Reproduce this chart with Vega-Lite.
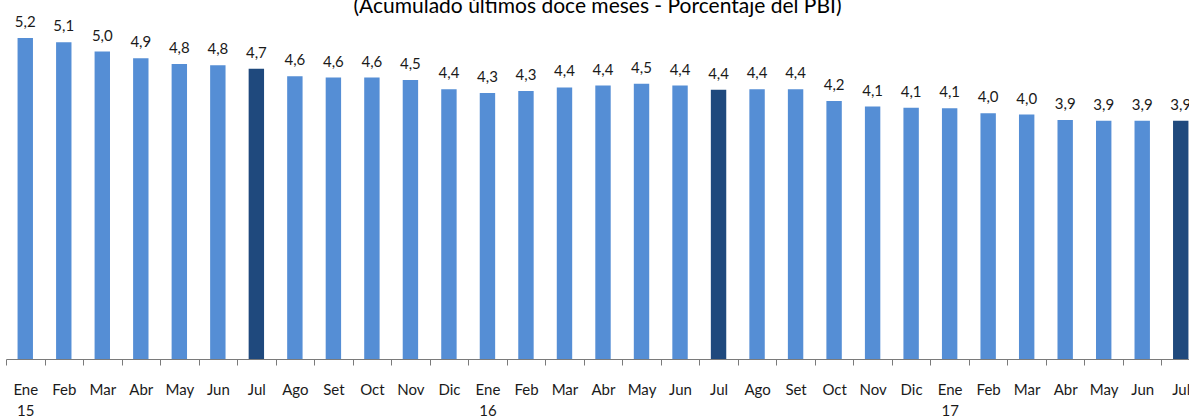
{
  "$schema": "https://vega.github.io/schema/vega-lite/v6.json",
  "autosize": "none",
  "width": 1183,
  "height": 321,
  "padding": {"left": 6, "top": 38, "right": 0, "bottom": 58},
  "background": "white",
  "title": {
    "text": "(Acumulado últimos doce meses - Porcentaje del PBI)",
    "font": "Lato",
    "fontSize": 21,
    "fontWeight": "normal",
    "color": "#000000",
    "anchor": "middle",
    "baseline": "alphabetic",
    "offset": -19
  },
  "data": {
    "values": [
      {"periodo": "15-01", "valor": 5.20, "destacado": false},
      {"periodo": "15-02", "valor": 5.13, "destacado": false},
      {"periodo": "15-03", "valor": 4.98, "destacado": false},
      {"periodo": "15-04", "valor": 4.87, "destacado": false},
      {"periodo": "15-05", "valor": 4.78, "destacado": false},
      {"periodo": "15-06", "valor": 4.76, "destacado": false},
      {"periodo": "15-07", "valor": 4.70, "destacado": true},
      {"periodo": "15-08", "valor": 4.58, "destacado": false},
      {"periodo": "15-09", "valor": 4.56, "destacado": false},
      {"periodo": "15-10", "valor": 4.56, "destacado": false},
      {"periodo": "15-11", "valor": 4.52, "destacado": false},
      {"periodo": "15-12", "valor": 4.37, "destacado": false},
      {"periodo": "16-01", "valor": 4.31, "destacado": false},
      {"periodo": "16-02", "valor": 4.34, "destacado": false},
      {"periodo": "16-03", "valor": 4.40, "destacado": false},
      {"periodo": "16-04", "valor": 4.43, "destacado": false},
      {"periodo": "16-05", "valor": 4.46, "destacado": false},
      {"periodo": "16-06", "valor": 4.43, "destacado": false},
      {"periodo": "16-07", "valor": 4.36, "destacado": true},
      {"periodo": "16-08", "valor": 4.37, "destacado": false},
      {"periodo": "16-09", "valor": 4.37, "destacado": false},
      {"periodo": "16-10", "valor": 4.18, "destacado": false},
      {"periodo": "16-11", "valor": 4.09, "destacado": false},
      {"periodo": "16-12", "valor": 4.07, "destacado": false},
      {"periodo": "17-01", "valor": 4.06, "destacado": false},
      {"periodo": "17-02", "valor": 3.98, "destacado": false},
      {"periodo": "17-03", "valor": 3.96, "destacado": false},
      {"periodo": "17-04", "valor": 3.87, "destacado": false},
      {"periodo": "17-05", "valor": 3.86, "destacado": false},
      {"periodo": "17-06", "valor": 3.86, "destacado": false},
      {"periodo": "17-07", "valor": 3.86, "destacado": true}
    ]
  },
  "encoding": {
    "x": {
      "field": "periodo",
      "type": "ordinal",
      "sort": null,
      "scale": {"range": [0, 1194], "paddingInner": 0, "paddingOuter": 0},
      "axis": {
        "title": null,
        "labelAngle": 0,
        "ticks": true,
        "tickBand": "extent",
        "tickExtra": true,
        "tickSize": 6,
        "tickWidth": 1,
        "tickColor": "#7a7a7a",
        "domainColor": "#7a7a7a",
        "labelFont": "Lato",
        "labelFontSize": 15,
        "labelColor": "#1a1a1a",
        "labelPadding": 17,
        "labelBaseline": "top",
        "labelLineHeight": 21,
        "labelExpr": "substring(datum.value, 3, 5) == '01' ? [['Ene','Feb','Mar','Abr','May','Jun','Jul','Ago','Set','Oct','Nov','Dic'][toNumber(substring(datum.value, 3, 5)) - 1], substring(datum.value, 0, 2)] : ['Ene','Feb','Mar','Abr','May','Jun','Jul','Ago','Set','Oct','Nov','Dic'][toNumber(substring(datum.value, 3, 5)) - 1]"
      }
    },
    "y": {
      "field": "valor",
      "type": "quantitative",
      "scale": {"domain": [0, 5.2], "nice": false, "zero": true},
      "axis": null
    }
  },
  "layer": [
    {
      "mark": {"type": "bar", "width": {"band": 0.4}},
      "encoding": {
        "color": {
          "field": "destacado",
          "type": "nominal",
          "scale": {"domain": [false, true], "range": ["#558ED5", "#1F497D"]},
          "legend": null
        }
      }
    },
    {
      "mark": {
        "type": "text",
        "font": "Lato",
        "fontSize": 15,
        "color": "#1a1a1a",
        "baseline": "alphabetic",
        "dy": -11
      },
      "encoding": {
        "text": {"field": "valor", "type": "quantitative", "format": ".1f"}
      }
    }
  ],
  "config": {
    "view": {"stroke": null},
    "locale": {
      "number": {
        "decimal": ",",
        "thousands": ".",
        "grouping": [3],
        "currency": ["", ""]
      }
    }
  }
}
